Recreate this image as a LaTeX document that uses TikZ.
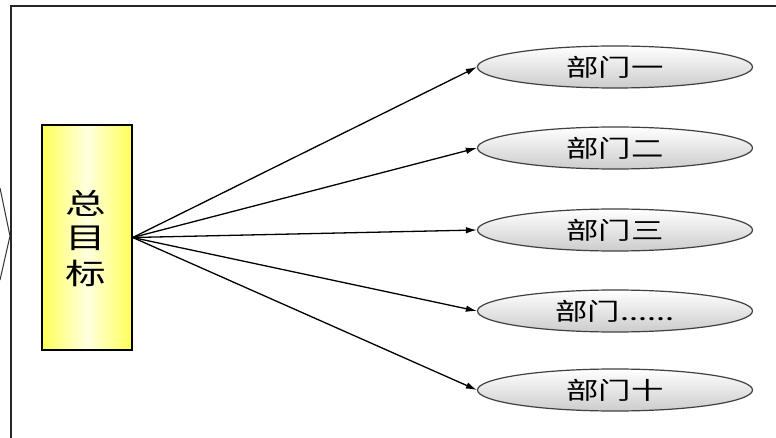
\documentclass[tikz,border=0pt]{standalone}
\usepackage{fontspec}
\newfontfamily\cjk{Noto Sans CJK SC}
\usetikzlibrary{shapes.geometric,arrows.meta}
\begin{document}
\begin{tikzpicture}[x=1pt,y=-1pt,
  goalbox/.style={draw=black,line width=1.4pt,minimum width=90pt,minimum height=225pt,inner sep=0pt,
    left color=yellow!65,right color=yellow!65,middle color=yellow!12},
  goalchar/.style={inner sep=0pt,font=\cjk\fontsize{29pt}{32pt}\selectfont},
  dept/.style={ellipse,draw=black!75,line width=1.2pt,minimum width=275pt,minimum height=42pt,inner sep=0pt,
    top color=white,bottom color=black!20},
  link/.style={line width=1.3pt,-{Latex[length=11pt,width=6.5pt]}},
  frame/.style={line width=1.8pt,black!85}]
\useasboundingbox (0,0) rectangle (776,438);
\fill[white] (0,0) rectangle (776,438);
% frame
\draw[frame] (11,438) -- (11,6) -- (776,6);
% fragments from outside
\coordinate (fa) at (0,188);
\coordinate (fm) at (10,236);
\coordinate (fb) at (0,280);
\draw[line width=1pt,black!80] (fa) -- (fm) -- (fb);
% goal
\node[goalbox] (goal) at (87,237.5) {};
\node[goalchar] (g1) at (86,203) {\scalebox{1.4}[1]{总}};
\node[goalchar] (g2) at (86,238) {\scalebox{1.4}[1]{目}};
\node[goalchar] (g3) at (86,273) {\scalebox{1.4}[1]{标}};
% departments
\node[dept] (d1) at (615,67) {\cjk\fontsize{24pt}{28pt}\selectfont\scalebox{1.35}[1]{部门一}};
\node[dept] (d2) at (615,148) {\cjk\fontsize{24pt}{28pt}\selectfont\scalebox{1.35}[1]{部门二}};
\node[dept] (d3) at (615,230) {\cjk\fontsize{24pt}{28pt}\selectfont\scalebox{1.35}[1]{部门三}};
\node[dept] (d4) at (615,311) {\cjk\fontsize{24pt}{28pt}\selectfont\scalebox{1.35}[1]{部门......}};
\node[dept] (d5) at (615,390) {\cjk\fontsize{24pt}{28pt}\selectfont\scalebox{1.35}[1]{部门十}};
% connectors
\foreach \d in {d1,d2,d3,d4,d5}
  \draw[link] (goal.east) -- (\d.west);
\end{tikzpicture}
\end{document}
